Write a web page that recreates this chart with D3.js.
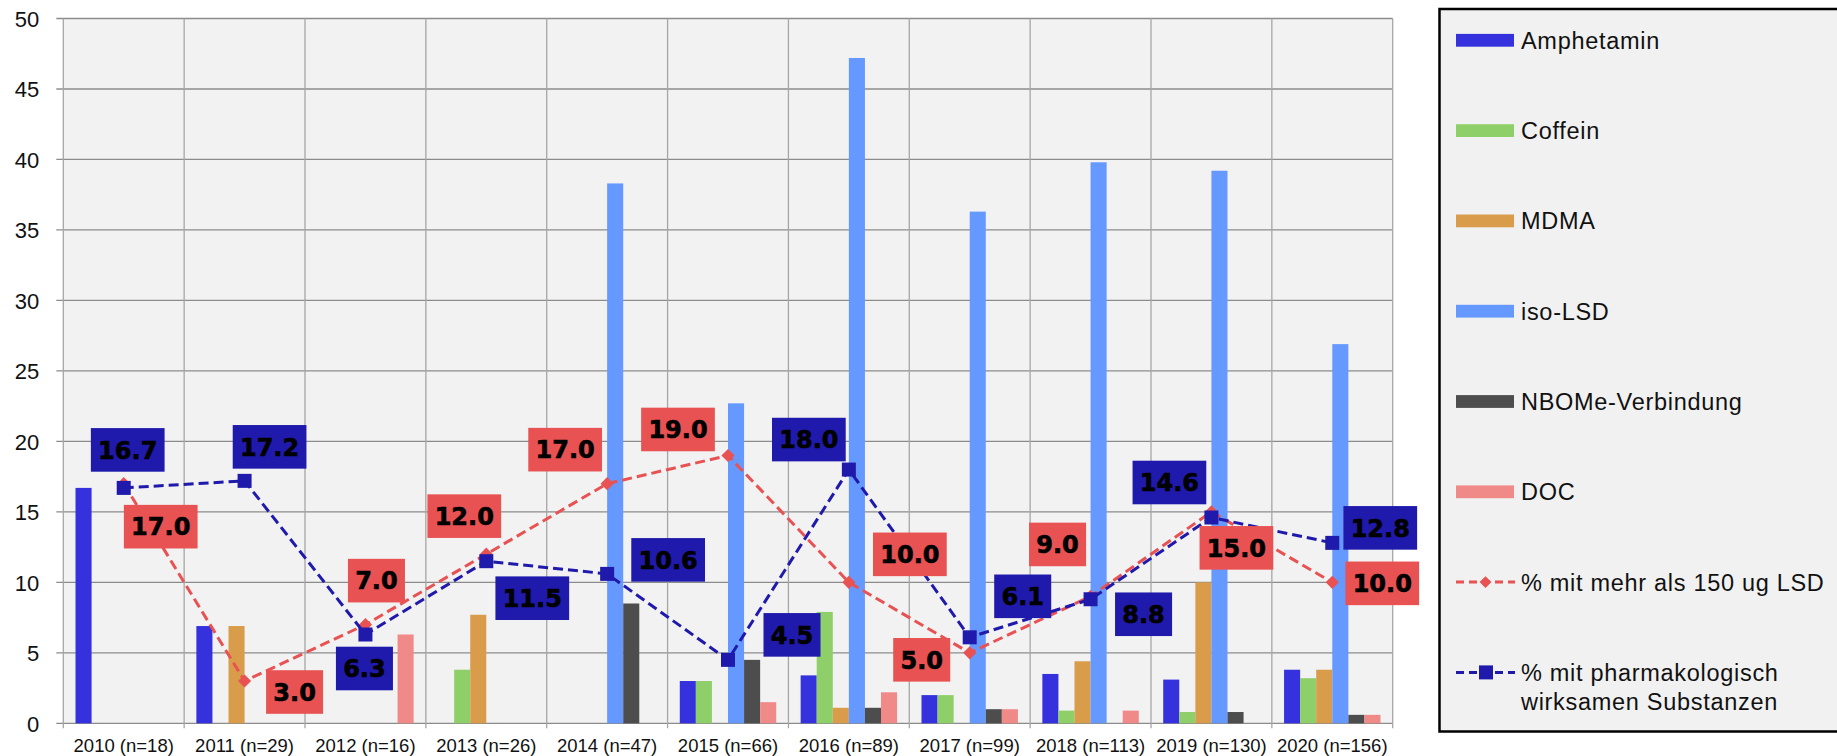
<!DOCTYPE html>
<html>
<head>
<meta charset="utf-8">
<script src="https://cdn.jsdelivr.net/npm/d3@7"></script>
<style>
  body { margin: 0; background: #fff; }
  svg { display: block; }
  .tick-y, .tick-x { font-family: "Liberation Sans", Arial, sans-serif; fill: #111; }
  .legend-text { font-family: "Liberation Sans", Arial, sans-serif; font-size: 23.5px; letter-spacing: 0.7px; fill: #111; }
  .val { font-family: "DejaVu Sans", sans-serif; font-weight: bold; font-size: 24px; fill: #000; stroke: #000; stroke-width: 0.6px; }
</style>
</head>
<body>
<div id="chart"></div>
<script>
// categories
var years = ["2010 (n=18)", "2011 (n=29)", "2012 (n=16)", "2013 (n=26)", "2014 (n=47)",
  "2015 (n=66)", "2016 (n=89)", "2017 (n=99)", "2018 (n=113)", "2019 (n=130)", "2020 (n=156)"];

// bar series (%)
var amphetamin = [16.7, 6.9, 0, 0, 0, 3.0, 3.4, 2.0, 3.5, 3.1, 3.8];
var coffein    = [0, 0, 0, 3.8, 0, 3.0, 7.9, 2.0, 0.9, 0.8, 3.2];
var mdma       = [0, 6.9, 0, 7.7, 0, 0, 1.1, 0, 4.4, 10.0, 3.8];
var isoLSD     = [0, 0, 0, 0, 38.3, 22.7, 47.2, 36.3, 39.8, 39.2, 26.9];
var nbome      = [0, 0, 0, 0, 8.5, 4.5, 1.1, 1.0, 0, 0.8, 0.6];
var doc        = [0, 0, 6.3, 0, 0, 1.5, 2.2, 1.0, 0.9, 0, 0.6];

// line series (%)
var mehrAls150 = [17.0, 3.0, 7.0, 12.0, 17.0, 19.0, 10.0, 5.0, 9.0, 15.0, 10.0];
var pharmWirk  = [16.7, 17.2, 6.3, 11.5, 10.6, 4.5, 18.0, 6.1, 8.8, 14.6, 12.8];

var yTicks = [0, 5, 10, 15, 20, 25, 30, 35, 40, 45, 50];

var barNames = ["Amphetamin", "Coffein", "MDMA", "iso-LSD", "NBOMe-Verbindung", "DOC"];
var barColors = ["#3532dd", "#8fcf6a", "#d99c4a", "#6699ff", "#4d4d4d", "#f08a88"];
var barSeries = [amphetamin, coffein, mdma, isoLSD, nbome, doc];

// where each data label box sits relative to its point (layout only)
var redLabelOff = [[37, 43], [50, 11], [11, -44], [-22, -38], [-42, -34], [-50, -26],
  [61, -28], [-48, 7], [-33, -52], [25, 36], [50, 1]];
var blueLabelOff = [[4, -38], [25, -34], [-1, 34], [46, 37], [61, -14], [64, -25],
  [-40, -30], [53, -41], [53, 15], [-42, -35], [48, -15]];

var svgWidth = 1837;
var svgHeight = 756;
var margin = { top: 18.5, left: 63.3 };
var width = 1329.4;
var height = 704.8;

var redCol = "#e85252";
var blueCol = "#1f1aab";

var svg = d3.select("#chart").append("svg")
  .attr("width", svgWidth)
  .attr("height", svgHeight);

var chartGroup = svg.append("g")
  .attr("transform", `translate(${margin.left}, ${margin.top})`);

var x0 = d3.scaleBand().domain(years).range([0, width]).padding(0);
var x1 = d3.scaleBand().domain(d3.range(barNames.length))
  .range([0, x0.bandwidth()]).paddingInner(0).paddingOuter(0.76);
var y = d3.scaleLinear().domain([0, 50]).range([height, 0]);

// plot background
chartGroup.append("rect")
  .attr("width", width).attr("height", height)
  .attr("fill", "#f2f2f2");

// horizontal grid
chartGroup.selectAll(".hgrid")
  .data(yTicks)
  .enter().append("line")
  .attr("x1", -7).attr("x2", width)
  .attr("y1", d => y(d)).attr("y2", d => y(d))
  .attr("stroke", "#8c8c8c").attr("stroke-width", 1.3);

// vertical grid at category boundaries
var bounds = years.map(d => x0(d)).concat([width]);
chartGroup.selectAll(".vgrid")
  .data(bounds)
  .enter().append("line")
  .attr("x1", d => d).attr("x2", d => d)
  .attr("y1", 0).attr("y2", height + 5)
  .attr("stroke", "#a6a6a6").attr("stroke-width", 1.3);

// y tick labels
chartGroup.selectAll(".tick-y")
  .data(yTicks)
  .enter().append("text")
  .attr("class", "tick-y")
  .attr("x", -24)
  .attr("y", d => y(d) + 8.5)
  .attr("text-anchor", "end")
  .attr("font-size", 22)
  .text(d => d);

// x tick labels
chartGroup.selectAll(".tick-x")
  .data(years)
  .enter().append("text")
  .attr("class", "tick-x")
  .attr("x", d => x0(d) + x0.bandwidth() / 2)
  .attr("y", height + 28.5)
  .attr("text-anchor", "middle")
  .attr("font-size", 18.5)
  .text(d => d);

// bars
barSeries.forEach(function(vals, si) {
  chartGroup.selectAll(".bar" + si)
    .data(vals)
    .enter().append("rect")
    .attr("x", (d, i) => x0(years[i]) + x1(si))
    .attr("width", x1.bandwidth())
    .attr("y", d => y(d))
    .attr("height", d => height - y(d))
    .attr("fill", barColors[si]);
});

var cx = (d, i) => x0(years[i]) + x0.bandwidth() / 2;

// red line + diamonds
var line = d3.line().x(cx).y(d => y(d));
chartGroup.append("path")
  .datum(mehrAls150)
  .attr("d", line)
  .attr("fill", "none").attr("stroke", redCol)
  .attr("stroke-width", 3).attr("stroke-dasharray", "10,5");
chartGroup.selectAll(".dia")
  .data(mehrAls150)
  .enter().append("path")
  .attr("d", d3.symbol(d3.symbolDiamond2, 110))
  .attr("transform", (d, i) => `translate(${cx(d, i)},${y(d)})`)
  .attr("fill", redCol);

// blue line + squares
chartGroup.append("path")
  .datum(pharmWirk)
  .attr("d", line)
  .attr("fill", "none").attr("stroke", blueCol)
  .attr("stroke-width", 3).attr("stroke-dasharray", "10,5");
chartGroup.selectAll(".sq")
  .data(pharmWirk)
  .enter().append("rect")
  .attr("x", (d, i) => cx(d, i) - 7)
  .attr("y", d => y(d) - 7)
  .attr("width", 14).attr("height", 14)
  .attr("fill", blueCol);

// data labels
function drawLabels(vals, offs, col) {
  vals.forEach(function(v, i) {
    var lx = cx(v, i) + offs[i][0];
    var ly = y(v) + offs[i][1];
    var g = chartGroup.append("g");
    var r = g.append("rect").attr("fill", col);
    var t = g.append("text")
      .attr("class", "val")
      .attr("x", lx).attr("y", ly + 8.7)
      .attr("text-anchor", "middle")
      .text(v.toFixed(1));
    var w = t.node().getComputedTextLength() + 14.5;
    r.attr("x", lx - w / 2).attr("y", ly - 21.8)
      .attr("width", w).attr("height", 43.6);
  });
}
drawLabels(mehrAls150, redLabelOff, redCol);
drawLabels(pharmWirk, blueLabelOff, blueCol);

// legend
var legend = svg.append("g");
legend.append("rect")
  .attr("x", 1439.5).attr("y", 9)
  .attr("width", 420).attr("height", 722.5)
  .attr("fill", "#f1f1f1").attr("stroke", "#000").attr("stroke-width", 2.5);

var legY = d3.scaleLinear().domain([0, 7]).range([40.3, 672.4]);

barNames.forEach(function(name, i) {
  legend.append("rect")
    .attr("x", 1456).attr("y", legY(i) - 6.4)
    .attr("width", 58).attr("height", 12.8)
    .attr("fill", barColors[i]);
  legend.append("text")
    .attr("class", "legend-text")
    .attr("x", 1521).attr("y", legY(i) + 8.5)
    .text(name);
});

// legend line entries
[[redCol, "% mit mehr als 150 ug LSD"], [blueCol, "% mit pharmakologisch"]].forEach(function(e, k) {
  var ly = legY(6 + k);
  legend.append("line")
    .attr("x1", 1456).attr("x2", 1515)
    .attr("y1", ly).attr("y2", ly)
    .attr("stroke", e[0]).attr("stroke-width", 3)
    .attr("stroke-dasharray", "8,5");
  if (k === 0) {
    legend.append("path")
      .attr("d", d3.symbol(d3.symbolDiamond2, 90))
      .attr("transform", `translate(1485.5,${ly})`)
      .attr("fill", e[0]);
  } else {
    legend.append("rect")
      .attr("x", 1479).attr("y", ly - 7)
      .attr("width", 14).attr("height", 14)
      .attr("fill", e[0]);
  }
  legend.append("text")
    .attr("class", "legend-text")
    .attr("x", 1521).attr("y", ly + 8.8)
    .text(e[1]);
});
legend.append("text")
  .attr("class", "legend-text")
  .attr("x", 1521).attr("y", legY(7) + 37.5)
  .text("wirksamen Substanzen");
</script>
</body>
</html>
